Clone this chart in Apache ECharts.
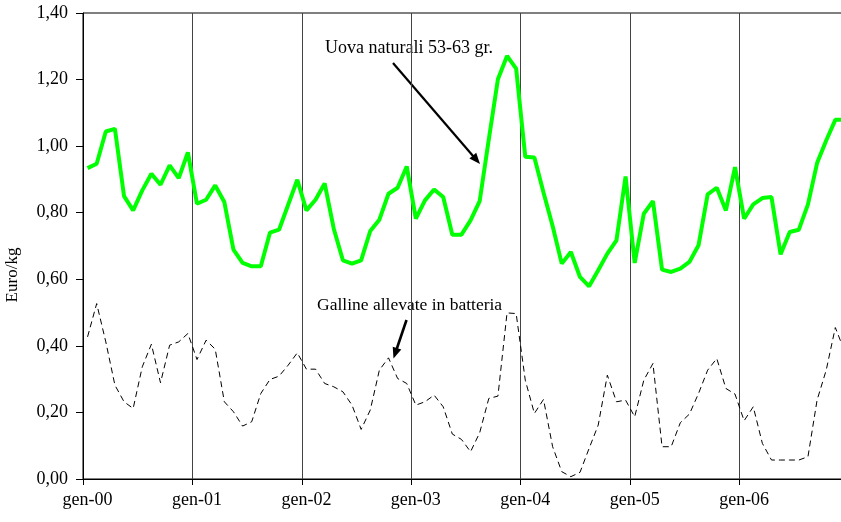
<!DOCTYPE html>
<html>
<head>
<meta charset="utf-8">
<script src="https://cdn.jsdelivr.net/npm/echarts@6/dist/echarts.min.js"></script>
<style>html,body{margin:0;padding:0;background:#fff;overflow:hidden}#c{width:850px;height:522px}</style>
</head>
<body>
<div id="c"></div>
<script>
const monthNames = ['gen','feb','mar','apr','mag','giu','lug','ago','set','ott','nov','dic'];
const years = ['00','01','02','03','04','05','06'];
const yTicks = [0,0.2,0.4,0.6,0.8,1.0,1.2,1.4];

const uova = [0.934,0.947,1.044,1.052,0.850,0.807,0.867,0.917,0.884,0.942,0.904,0.981,
0.827,0.839,0.882,0.832,0.689,0.649,0.639,0.639,0.740,0.749,0.824,0.899,
0.807,0.839,0.888,0.752,0.657,0.647,0.657,0.745,0.779,0.857,0.875,0.939,
0.782,0.837,0.870,0.847,0.734,0.734,0.777,0.835,1.020,1.201,1.271,1.233,
0.968,0.966,0.861,0.760,0.647,0.682,0.607,0.579,0.627,0.677,0.717,0.909,
0.649,0.797,0.835,0.629,0.622,0.632,0.652,0.702,0.855,0.875,0.807,0.937,
0.782,0.825,0.844,0.847,0.675,0.742,0.749,0.825,0.949,1.017,1.079,1.079];

const galline = [0.427,0.527,0.412,0.282,0.232,0.212,0.337,0.405,0.289,0.402,0.412,0.437,
0.359,0.417,0.390,0.232,0.202,0.159,0.172,0.257,0.299,0.309,0.342,0.379,
0.330,0.330,0.287,0.277,0.262,0.222,0.149,0.207,0.327,0.364,0.302,0.287,
0.222,0.232,0.252,0.217,0.135,0.119,0.082,0.139,0.242,0.249,0.499,0.497,
0.297,0.197,0.239,0.097,0.022,0.007,0.020,0.092,0.162,0.312,0.232,0.237,
0.187,0.297,0.347,0.097,0.097,0.169,0.195,0.257,0.327,0.362,0.272,0.255,
0.175,0.217,0.107,0.057,0.057,0.057,0.057,0.067,0.237,0.327,0.455,0.385];

const categories = [];
years.forEach(y => monthNames.forEach(m => categories.push(m + '-' + y)));

const FONT = 'Liberation Serif';

function arrow(x1, y1, x2, y2, w, hl, hw) {
  const dx = x2 - x1, dy = y2 - y1, L = Math.sqrt(dx*dx + dy*dy);
  const ux = dx / L, uy = dy / L, px = -uy, py = ux;
  const bx = x2 - ux * hl, by = y2 - uy * hl;
  return [
    {type:'line', shape:{x1:x1, y1:y1, x2:bx + ux, y2:by + uy}, style:{stroke:'#000', lineWidth:w}},
    {type:'polygon', shape:{points:[[x2,y2],[bx + px*hw, by + py*hw],[bx - px*hw, by - py*hw]]}, style:{fill:'#000'}}
  ];
}

const chart = echarts.init(document.getElementById('c'), null, {renderer:'canvas'});
chart.setOption({
  animation: false,
  backgroundColor: '#fff',
  grid: {left: 83, right: 1, top: 13, bottom: 43, show: true, borderColor: '#000', borderWidth: 1, backgroundColor: 'transparent'},
  xAxis: {
    type: 'category',
    data: categories,
    boundaryGap: true,
    axisLine: {lineStyle: {color: '#000', width: 1}},
    axisTick: {show: true, interval: 11, length: 6, inside: false, lineStyle: {color: '#000'}},
    axisLabel: {interval: 11, color: '#000', fontFamily: FONT, fontSize: 18, margin: 12},
    splitLine: {show: true, interval: 11, lineStyle: {color: '#444', width: 1}}
  },
  yAxis: {
    type: 'value',
    min: 0, max: 1.4, interval: 0.2,
    axisLine: {show: true, lineStyle: {color: '#000', width: 1}},
    axisTick: {show: true, length: 7, lineStyle: {color: '#000'}},
    axisLabel: {color: '#000', fontFamily: FONT, fontSize: 18, margin: 15,
      formatter: v => v.toFixed(2).replace('.', ',')},
    splitLine: {show: false}
  },
  series: [
    {name: 'Uova naturali 53-63 gr.', type: 'line', data: uova, symbol: 'none',
     lineStyle: {color: '#00ff00', width: 4}, z: 3},
    {name: 'Galline allevate in batteria', type: 'line', data: galline, symbol: 'none',
     lineStyle: {color: '#000', width: 1, type: [6, 4]}, z: 2}
  ],
  graphic: [
    {type: 'text', x: 13, y: 275, rotation: Math.PI / 2,
     style: {text: 'Euro/kg', font: '17px "Liberation Serif"', fill: '#000', textAlign: 'center', textVerticalAlign: 'middle'}},
    {type: 'text', x: 325, y: 48,
     style: {text: 'Uova naturali 53-63 gr.', font: '18px "Liberation Serif"', fill: '#000', textAlign: 'left', textVerticalAlign: 'middle'}},
    {type: 'text', x: 317, y: 305,
     style: {text: 'Galline allevate in batteria', font: '17.5px "Liberation Serif"', fill: '#000', textAlign: 'left', textVerticalAlign: 'middle'}},
    ...arrow(393, 63, 480, 164, 2.2, 11, 4.5),
    ...arrow(406.5, 320, 393.5, 358.5, 2.6, 11, 4.5)
  ]
});
</script>
</body>
</html>
